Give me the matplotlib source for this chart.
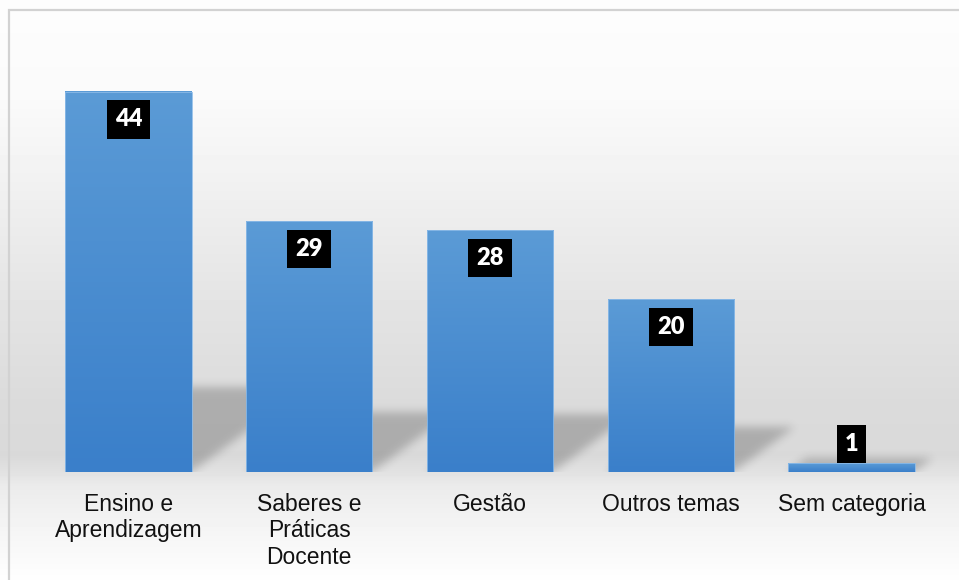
import numpy as np
import matplotlib
matplotlib.use("Agg")
import matplotlib.pyplot as plt
from matplotlib.colors import LinearSegmentedColormap
from matplotlib.patches import Rectangle

categories = ["Ensino e\nAprendizagem", "Saberes e\nPráticas\nDocente", "Gestão",
              "Outros temas", "Sem categoria"]
values = [44, 29, 28, 20, 1]

fig = plt.figure(figsize=(9.59, 5.80), dpi=100)

# soft grey backdrop: white at the top, darkest just above the floor line
bg = fig.add_axes([0, 0, 1, 1], zorder=-1)
stops_px = [0, 100, 200, 300, 400, 455, 472, 485, 535, 580]
stops_gray = [253, 250, 239, 228, 219, 217, 226, 235, 246, 254]
rows = np.interp(np.arange(580), stops_px, stops_gray) / 255.0
bg.imshow(np.repeat(rows[:, None], 959, axis=1), cmap="gray", vmin=0, vmax=1,
          aspect="auto", extent=(0, 1, 0, 1), interpolation="nearest")
bg.set_xlim(0, 1)
bg.set_ylim(0, 1)
bg.axis("off")

ax = fig.add_axes([38 / 959, 108 / 580, 904 / 959, 432 / 580])
ax.patch.set_visible(False)
x = np.arange(len(values))
bars = ax.bar(x, values, width=0.7, facecolor="none", edgecolor="#8dbbe8",
              linewidth=0.6, zorder=3)

# perspective shadows falling to the right of each bar
nx, ny = 904, 432
gx = np.linspace(-0.5, len(values) - 0.5, nx)
gy = np.linspace(0, 50, ny)
X, Y = np.meshgrid(gx, gy)
mask = np.zeros_like(X)
for b in bars:
    x0, x1, h = b.get_x(), b.get_x() + b.get_width(), b.get_height()
    hs = 0.19 * h + 1.4
    dx = hs * 0.065
    off = dx * Y / hs
    inside = (Y <= hs) & (X >= x0 + off) & (X <= x1 + off)
    mask[inside] = 1.0

k = np.exp(-0.5 * (np.arange(-12, 13) / 4.5) ** 2)
k /= k.sum()
mask = np.apply_along_axis(lambda r: np.convolve(r, k, mode="same"), 1, mask)
mask = np.apply_along_axis(lambda c: np.convolve(c, k, mode="same"), 0, mask)
shadow = np.zeros((ny, nx, 4))
shadow[..., 3] = mask * 0.21
ax.imshow(shadow, origin="lower", extent=(-0.5, len(values) - 0.5, 0, 50),
          aspect="auto", zorder=1, interpolation="bilinear")

# vertical blue gradient inside each bar
blue = LinearSegmentedColormap.from_list("bar", ["#3a7fca", "#5b9bd6"])
grad = np.linspace(0, 1, 256)[:, None]
for b in bars:
    ax.imshow(grad, cmap=blue, origin="lower", aspect="auto", zorder=2,
              extent=(b.get_x(), b.get_x() + b.get_width(), 0, b.get_height()))

ax.set_xlim(-0.5, len(values) - 0.5)
ax.set_ylim(0, 50)

# value labels in black boxes
for xi, v in zip(x, values):
    yl = v - 3.2 if v > 5 else v + 2.2
    ax.text(xi, yl, str(v), ha="center", va="center", color="white",
            fontsize=17, fontweight="heavy", family="Lato", zorder=4,
            bbox=dict(boxstyle="square,pad=0.34", fc="black", ec="none"))

ax.set_xticks(x)
ax.set_xticklabels(categories, fontsize=16.5, family="Liberation Sans",
                   color="#111111", linespacing=1.2)
ax.tick_params(axis="x", length=0, pad=15)
ax.set_yticks([])
for s in ax.spines.values():
    s.set_visible(False)

fig.patches.append(Rectangle((9 / 959, -0.05), 1.0, 1 - 10 / 580 + 0.05,
                             transform=fig.transFigure, fill=False,
                             ec="#d2d2d2", lw=1.6, zorder=10))

fig.savefig("out.png", dpi=100)
